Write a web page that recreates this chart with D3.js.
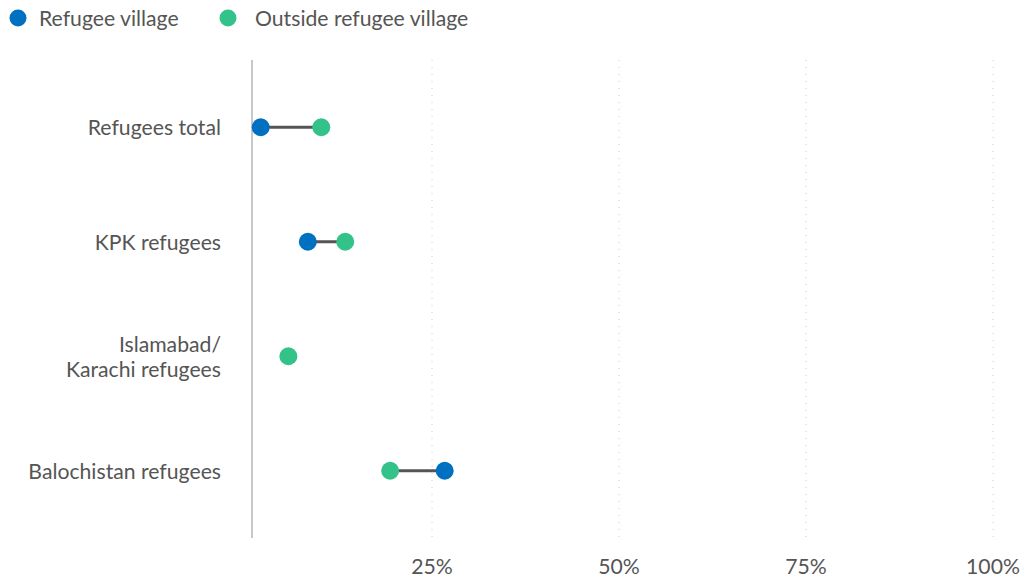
<!DOCTYPE html>
<html><head><meta charset="utf-8">
<script src="https://cdn.jsdelivr.net/npm/d3@7"></script>
<style>body{margin:0;background:#fff;font-family:Lato,"Open Sans",sans-serif;}</style>
</head><body>
<svg id="c" width="1022" height="578"></svg>
<script>
const categories = ["Refugees total", "KPK refugees", "Islamabad/\nKarachi refugees", "Balochistan refugees"];
const refugeeVillage = [0.021, 0.084, null, 0.267];
const outsideVillage = [0.102, 0.134, 0.058, 0.194];
const tickValues = [0.25, 0.5, 0.75, 1.0];
const seriesNames = ["Refugee village", "Outside refugee village"];
const colors = ["#0070c0", "#33c38a"];

const svg = d3.select("#c");
const x = d3.scaleLinear().domain([0, 1]).range([245, 993]);
const y = d3.scaleBand().domain(categories).range([70, 528]);
const textColor = "#555";
const fs = 21.2;

// gridlines
svg.append("g").selectAll("line").data(tickValues).join("line")
  .attr("x1", d => x(d)).attr("x2", d => x(d))
  .attr("y1", 60).attr("y2", 540)
  .attr("stroke", "#ccc").attr("stroke-width", 1).attr("stroke-dasharray", "1,6");

// tick labels
svg.append("g").selectAll("text").data(tickValues).join("text")
  .attr("x", d => x(d)).attr("y", 574)
  .attr("text-anchor", "middle").attr("fill", textColor)
  .attr("font-size", fs).text(d => d3.format(".0%")(d));

// axis baseline
svg.append("line").attr("x1", 252).attr("x2", 252).attr("y1", 60).attr("y2", 538)
  .attr("stroke", "#c8c8c8").attr("stroke-width", 2);

// category labels
const lab = svg.append("g").selectAll("text").data(categories).join("text")
  .attr("text-anchor", "end").attr("fill", textColor).attr("font-size", fs);
lab.each(function(d) {
  const lines = d.split("\n");
  const cy = y(d) + y.bandwidth() / 2;
  const lh = 25;
  const t = d3.select(this);
  lines.forEach((ln, i) => {
    t.append("tspan").attr("x", 221)
      .attr("y", cy + (i - (lines.length - 1) / 2) * lh + 8)
      .text(ln);
  });
});

// connectors
const rows = categories.map((c, i) => ({c, a: refugeeVillage[i], b: outsideVillage[i]}));
svg.append("g").selectAll("line").data(rows.filter(r => r.a != null && r.b != null)).join("line")
  .attr("x1", r => x(r.a)).attr("x2", r => x(r.b))
  .attr("y1", r => y(r.c) + y.bandwidth() / 2).attr("y2", r => y(r.c) + y.bandwidth() / 2)
  .attr("stroke", "#555").attr("stroke-width", 3);

// dots
[refugeeVillage, outsideVillage].forEach((vals, s) => {
  svg.append("g").selectAll("circle")
    .data(categories.map((c, i) => ({c, v: vals[i]})).filter(d => d.v != null))
    .join("circle")
    .attr("cx", d => x(d.v)).attr("cy", d => y(d.c) + y.bandwidth() / 2)
    .attr("r", 9).attr("fill", colors[s]);
});

// legend
const legX = [18, 228];
const leg = svg.append("g").selectAll("g").data(seriesNames).join("g");
leg.append("circle").attr("cx", (d, i) => legX[i]).attr("cy", 18).attr("r", 8.5).attr("fill", (d, i) => colors[i]);
leg.append("text").attr("x", (d, i) => legX[i] + (i === 0 ? 21 : 27)).attr("y", 26)
  .attr("fill", textColor).attr("font-size", fs).text(d => d);
</script>
</body></html>
